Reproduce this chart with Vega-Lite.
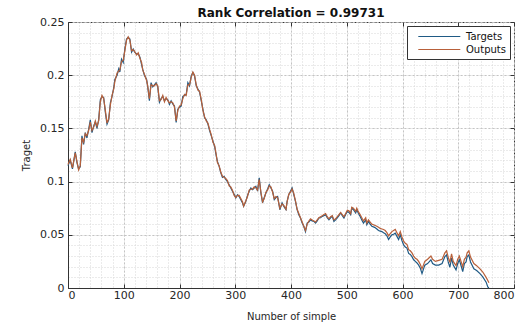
{
  "$schema": "https://vega.github.io/schema/vega-lite/v6.json",
  "width": 446,
  "height": 266,
  "autosize": {"type": "none"},
  "padding": {"left": 68, "top": 22, "right": 16, "bottom": 41},
  "background": "white",
  "title": {"text": "Rank Correlation = 0.99731", "font": "DejaVu Sans", "fontSize": 12, "fontWeight": "bold", "color": "#111111", "offset": -4, "anchor": "middle"},
  "config": {
    "view": {"stroke": "#333333", "strokeWidth": 1},
    "axis": {"labelFont": "DejaVu Sans", "labelFontSize": 11, "labelColor": "#262626", "titleFont": "DejaVu Sans", "titleFontSize": 10, "titleFontWeight": "normal", "titleColor": "#262626", "domainColor": "#333333", "tickColor": "#333333"}
  },
  "data": {"values": [
    {"n":0,"Targets":0.115,"Outputs":0.116},{"n":4,"Targets":0.12,"Outputs":0.121},{"n":8,"Targets":0.112,"Outputs":0.113},{"n":13,"Targets":0.128,"Outputs":0.127},{"n":16,"Targets":0.118,"Outputs":0.119},{"n":19,"Targets":0.112,"Outputs":0.111},{"n":22,"Targets":0.114,"Outputs":0.115},{"n":25,"Targets":0.143,"Outputs":0.141},{"n":28,"Targets":0.135,"Outputs":0.137},{"n":31,"Targets":0.146,"Outputs":0.145},{"n":34,"Targets":0.141,"Outputs":0.143},{"n":37,"Targets":0.149,"Outputs":0.148},{"n":40,"Targets":0.158,"Outputs":0.156},{"n":43,"Targets":0.146,"Outputs":0.148},{"n":46,"Targets":0.152,"Outputs":0.151},{"n":49,"Targets":0.156,"Outputs":0.157},{"n":52,"Targets":0.15,"Outputs":0.152},{"n":55,"Targets":0.158,"Outputs":0.157},{"n":58,"Targets":0.177,"Outputs":0.175},{"n":61,"Targets":0.18,"Outputs":0.181},{"n":64,"Targets":0.179,"Outputs":0.178},{"n":67,"Targets":0.165,"Outputs":0.167},{"n":70,"Targets":0.154,"Outputs":0.155},{"n":73,"Targets":0.158,"Outputs":0.159},{"n":76,"Targets":0.174,"Outputs":0.172},{"n":79,"Targets":0.18,"Outputs":0.181},{"n":82,"Targets":0.188,"Outputs":0.187},{"n":84,"Targets":0.196,"Outputs":0.194},{"n":88,"Targets":0.2,"Outputs":0.202},{"n":91,"Targets":0.206,"Outputs":0.204},{"n":93,"Targets":0.203,"Outputs":0.205},{"n":96,"Targets":0.215,"Outputs":0.213},{"n":99,"Targets":0.212,"Outputs":0.214},{"n":102,"Targets":0.2245,"Outputs":0.223},{"n":105,"Targets":0.234,"Outputs":0.233},{"n":108,"Targets":0.2355,"Outputs":0.236},{"n":111,"Targets":0.234,"Outputs":0.233},{"n":114,"Targets":0.2217,"Outputs":0.223},{"n":117,"Targets":0.2245,"Outputs":0.224},{"n":120,"Targets":0.2214,"Outputs":0.222},{"n":123,"Targets":0.22,"Outputs":0.219},{"n":126,"Targets":0.22,"Outputs":0.221},{"n":129,"Targets":0.217,"Outputs":0.216},{"n":132,"Targets":0.21,"Outputs":0.212},{"n":134,"Targets":0.2057,"Outputs":0.205},{"n":137,"Targets":0.2,"Outputs":0.201},{"n":141,"Targets":0.196,"Outputs":0.195},{"n":143,"Targets":0.189,"Outputs":0.19},{"n":146,"Targets":0.176,"Outputs":0.178},{"n":149,"Targets":0.193,"Outputs":0.191},{"n":152,"Targets":0.189,"Outputs":0.19},{"n":155,"Targets":0.191,"Outputs":0.19},{"n":158,"Targets":0.193,"Outputs":0.192},{"n":161,"Targets":0.189,"Outputs":0.19},{"n":164,"Targets":0.1745,"Outputs":0.176},{"n":167,"Targets":0.178,"Outputs":0.177},{"n":170,"Targets":0.18,"Outputs":0.181},{"n":173,"Targets":0.176,"Outputs":0.175},{"n":176,"Targets":0.178,"Outputs":0.179},{"n":179,"Targets":0.177,"Outputs":0.176},{"n":182,"Targets":0.1726,"Outputs":0.174},{"n":185,"Targets":0.176,"Outputs":0.175},{"n":188,"Targets":0.173,"Outputs":0.174},{"n":191,"Targets":0.171,"Outputs":0.17},{"n":194,"Targets":0.1555,"Outputs":0.157},{"n":197,"Targets":0.168,"Outputs":0.167},{"n":200,"Targets":0.17,"Outputs":0.171},{"n":203,"Targets":0.171,"Outputs":0.172},{"n":206,"Targets":0.18,"Outputs":0.178},{"n":209,"Targets":0.181,"Outputs":0.182},{"n":212,"Targets":0.182,"Outputs":0.181},{"n":215,"Targets":0.193,"Outputs":0.191},{"n":218,"Targets":0.19,"Outputs":0.191},{"n":221,"Targets":0.1994,"Outputs":0.198},{"n":224,"Targets":0.2025,"Outputs":0.203},{"n":227,"Targets":0.1994,"Outputs":0.2},{"n":230,"Targets":0.19,"Outputs":0.191},{"n":233,"Targets":0.187,"Outputs":0.186},{"n":236,"Targets":0.184,"Outputs":0.185},{"n":239,"Targets":0.176,"Outputs":0.177},{"n":242,"Targets":0.168,"Outputs":0.167},{"n":245,"Targets":0.16,"Outputs":0.161},{"n":248,"Targets":0.158,"Outputs":0.157},{"n":251,"Targets":0.154,"Outputs":0.155},{"n":254,"Targets":0.148,"Outputs":0.149},{"n":257,"Targets":0.143,"Outputs":0.144},{"n":260,"Targets":0.138,"Outputs":0.137},{"n":263,"Targets":0.133,"Outputs":0.134},{"n":266,"Targets":0.124,"Outputs":0.125},{"n":268,"Targets":0.119,"Outputs":0.118},{"n":271,"Targets":0.1145,"Outputs":0.115},{"n":274,"Targets":0.1085,"Outputs":0.109},{"n":277,"Targets":0.104,"Outputs":0.105},{"n":280,"Targets":0.105,"Outputs":0.104},{"n":283,"Targets":0.102,"Outputs":0.103},{"n":286,"Targets":0.1,"Outputs":0.101},{"n":289,"Targets":0.097,"Outputs":0.096},{"n":292,"Targets":0.094,"Outputs":0.095},{"n":295,"Targets":0.091,"Outputs":0.092},{"n":298,"Targets":0.088,"Outputs":0.087},{"n":301,"Targets":0.0846,"Outputs":0.085},{"n":304,"Targets":0.0877,"Outputs":0.087},{"n":307,"Targets":0.086,"Outputs":0.087},{"n":310,"Targets":0.083,"Outputs":0.084},{"n":313,"Targets":0.08,"Outputs":0.081},{"n":315,"Targets":0.0767,"Outputs":0.077},{"n":319,"Targets":0.0814,"Outputs":0.082},{"n":322,"Targets":0.087,"Outputs":0.086},{"n":325,"Targets":0.091,"Outputs":0.092},{"n":328,"Targets":0.094,"Outputs":0.093},{"n":331,"Targets":0.0925,"Outputs":0.093},{"n":334,"Targets":0.094,"Outputs":0.095},{"n":337,"Targets":0.0956,"Outputs":0.094},{"n":340,"Targets":0.091,"Outputs":0.092},{"n":343,"Targets":0.1035,"Outputs":0.102},{"n":346,"Targets":0.0893,"Outputs":0.09},{"n":349,"Targets":0.08,"Outputs":0.081},{"n":352,"Targets":0.085,"Outputs":0.084},{"n":355,"Targets":0.0893,"Outputs":0.09},{"n":358,"Targets":0.093,"Outputs":0.092},{"n":361,"Targets":0.097,"Outputs":0.096},{"n":364,"Targets":0.094,"Outputs":0.095},{"n":367,"Targets":0.091,"Outputs":0.09},{"n":370,"Targets":0.083,"Outputs":0.084},{"n":373,"Targets":0.085,"Outputs":0.086},{"n":376,"Targets":0.086,"Outputs":0.085},{"n":380,"Targets":0.0736,"Outputs":0.075},{"n":384,"Targets":0.08,"Outputs":0.079},{"n":388,"Targets":0.076,"Outputs":0.077},{"n":391,"Targets":0.0736,"Outputs":0.074},{"n":393,"Targets":0.0814,"Outputs":0.081},{"n":396,"Targets":0.0877,"Outputs":0.088},{"n":399,"Targets":0.091,"Outputs":0.09},{"n":402,"Targets":0.094,"Outputs":0.093},{"n":405,"Targets":0.0877,"Outputs":0.089},{"n":408,"Targets":0.0814,"Outputs":0.082},{"n":411,"Targets":0.0736,"Outputs":0.074},{"n":414,"Targets":0.0689,"Outputs":0.07},{"n":417,"Targets":0.0658,"Outputs":0.066},{"n":420,"Targets":0.061,"Outputs":0.062},{"n":423,"Targets":0.0578,"Outputs":0.058},{"n":426,"Targets":0.053,"Outputs":0.054},{"n":429,"Targets":0.061,"Outputs":0.06},{"n":432,"Targets":0.062,"Outputs":0.063},{"n":435,"Targets":0.064,"Outputs":0.065},{"n":438,"Targets":0.063,"Outputs":0.064},{"n":441,"Targets":0.0626,"Outputs":0.063},{"n":444,"Targets":0.061,"Outputs":0.062},{"n":447,"Targets":0.063,"Outputs":0.064},{"n":450,"Targets":0.0658,"Outputs":0.066},{"n":453,"Targets":0.066,"Outputs":0.067},{"n":456,"Targets":0.0673,"Outputs":0.068},{"n":459,"Targets":0.068,"Outputs":0.069},{"n":462,"Targets":0.0689,"Outputs":0.07},{"n":465,"Targets":0.066,"Outputs":0.067},{"n":468,"Targets":0.064,"Outputs":0.065},{"n":471,"Targets":0.066,"Outputs":0.067},{"n":474,"Targets":0.0673,"Outputs":0.068},{"n":477,"Targets":0.0626,"Outputs":0.064},{"n":480,"Targets":0.064,"Outputs":0.065},{"n":483,"Targets":0.0658,"Outputs":0.067},{"n":486,"Targets":0.068,"Outputs":0.069},{"n":489,"Targets":0.0705,"Outputs":0.071},{"n":492,"Targets":0.068,"Outputs":0.069},{"n":495,"Targets":0.0658,"Outputs":0.067},{"n":498,"Targets":0.069,"Outputs":0.07},{"n":501,"Targets":0.072,"Outputs":0.073},{"n":504,"Targets":0.071,"Outputs":0.0725},{"n":507,"Targets":0.0689,"Outputs":0.07},{"n":509,"Targets":0.075,"Outputs":0.076},{"n":512,"Targets":0.0736,"Outputs":0.075},{"n":516,"Targets":0.0705,"Outputs":0.072},{"n":518,"Targets":0.0736,"Outputs":0.075},{"n":521,"Targets":0.07,"Outputs":0.0715},{"n":524,"Targets":0.0673,"Outputs":0.069},{"n":527,"Targets":0.064,"Outputs":0.066},{"n":530,"Targets":0.061,"Outputs":0.063},{"n":534,"Targets":0.064,"Outputs":0.066},{"n":536,"Targets":0.0594,"Outputs":0.061},{"n":539,"Targets":0.0626,"Outputs":0.064},{"n":542,"Targets":0.06,"Outputs":0.062},{"n":545,"Targets":0.058,"Outputs":0.06},{"n":550,"Targets":0.057,"Outputs":0.059},{"n":554,"Targets":0.0555,"Outputs":0.058},{"n":557,"Targets":0.054,"Outputs":0.057},{"n":560,"Targets":0.0535,"Outputs":0.056},{"n":563,"Targets":0.053,"Outputs":0.0555},{"n":566,"Targets":0.052,"Outputs":0.055},{"n":569,"Targets":0.051,"Outputs":0.054},{"n":572,"Targets":0.049,"Outputs":0.052},{"n":575,"Targets":0.0455,"Outputs":0.049},{"n":578,"Targets":0.048,"Outputs":0.051},{"n":581,"Targets":0.05,"Outputs":0.053},{"n":584,"Targets":0.0505,"Outputs":0.054},{"n":587,"Targets":0.0515,"Outputs":0.055},{"n":590,"Targets":0.0485,"Outputs":0.052},{"n":593,"Targets":0.0455,"Outputs":0.049},{"n":596,"Targets":0.05,"Outputs":0.053},{"n":599,"Targets":0.0445,"Outputs":0.048},{"n":602,"Targets":0.0405,"Outputs":0.044},{"n":605,"Targets":0.0385,"Outputs":0.042},{"n":608,"Targets":0.0375,"Outputs":0.041},{"n":611,"Targets":0.0325,"Outputs":0.036},{"n":614,"Targets":0.0315,"Outputs":0.035},{"n":617,"Targets":0.0295,"Outputs":0.033},{"n":620,"Targets":0.0265,"Outputs":0.03},{"n":623,"Targets":0.025,"Outputs":0.028},{"n":626,"Targets":0.0235,"Outputs":0.027},{"n":629,"Targets":0.0215,"Outputs":0.025},{"n":632,"Targets":0.0185,"Outputs":0.022},{"n":635,"Targets":0.0135,"Outputs":0.018},{"n":640,"Targets":0.0215,"Outputs":0.025},{"n":645,"Targets":0.023,"Outputs":0.027},{"n":651,"Targets":0.0265,"Outputs":0.03},{"n":654,"Targets":0.023,"Outputs":0.027},{"n":659,"Targets":0.0215,"Outputs":0.025},{"n":665,"Targets":0.0215,"Outputs":0.026},{"n":671,"Targets":0.023,"Outputs":0.027},{"n":676,"Targets":0.0295,"Outputs":0.033},{"n":679,"Targets":0.031,"Outputs":0.035},{"n":682,"Targets":0.0245,"Outputs":0.029},{"n":685,"Targets":0.0195,"Outputs":0.024},{"n":688,"Targets":0.028,"Outputs":0.032},{"n":691,"Targets":0.0215,"Outputs":0.025},{"n":696,"Targets":0.017,"Outputs":0.021},{"n":699,"Targets":0.023,"Outputs":0.027},{"n":702,"Targets":0.0265,"Outputs":0.03},{"n":708,"Targets":0.0155,"Outputs":0.02},{"n":711,"Targets":0.023,"Outputs":0.027},{"n":714,"Targets":0.0245,"Outputs":0.029},{"n":716,"Targets":0.0295,"Outputs":0.033},{"n":719,"Targets":0.031,"Outputs":0.035},{"n":722,"Targets":0.0245,"Outputs":0.029},{"n":728,"Targets":0.018,"Outputs":0.023},{"n":733,"Targets":0.0165,"Outputs":0.021},{"n":739,"Targets":0.0135,"Outputs":0.018},{"n":744,"Targets":0.0105,"Outputs":0.015},{"n":750,"Targets":0.0055,"Outputs":0.01},{"n":753,"Targets":0.001,"Outputs":0.007},{"n":755,"Targets":0.0,"Outputs":0.005}
  ]},
  "resolve": {"axis": {"x": "independent", "y": "independent"}},
  "layer": [
    {
      "mark": {"type": "line", "strokeWidth": 1.2},
      "encoding": {
        "x": {"field": "n", "type": "quantitative", "scale": {"domain": [0, 800], "nice": false},
          "axis": {"orient": "bottom", "values": [0,20,40,60,80,100,120,140,160,180,200,220,240,260,280,300,320,340,360,380,400,420,440,460,480,500,520,540,560,580,600,620,640,660,680,700,720,740,760,780,800], "grid": true, "gridColor": "#d6d6d6", "gridDash": [1, 2], "labels": false, "ticks": false, "domain": false, "title": null}},
        "y": {"field": "Targets", "type": "quantitative", "scale": {"domain": [0, 0.25], "nice": false, "zero": true},
          "axis": {"orient": "left", "values": [0,0.01,0.02,0.03,0.04,0.05,0.06,0.07,0.08,0.09,0.1,0.11,0.12,0.13,0.14,0.15,0.16,0.17,0.18,0.19,0.2,0.21,0.22,0.23,0.24,0.25], "grid": true, "gridColor": "#d6d6d6", "gridDash": [1, 2], "labels": false, "ticks": false, "domain": false, "title": null}},
        "color": {"datum": "Targets", "type": "nominal",
          "scale": {"domain": ["Targets", "Outputs"], "range": ["#1f5a85", "#b8603a"]},
          "legend": {"title": null, "orient": "top-right", "offset": 4, "strokeColor": "#333333", "fillColor": "white", "padding": 4, "symbolType": "M-6.2,0H0.8", "symbolSize": 144, "symbolOffset": 38, "symbolStrokeWidth": 1, "labelOffset": 4, "labelFont": "DejaVu Sans", "labelFontSize": 10, "labelColor": "#111111", "rowPadding": 1, "cornerRadius": 0}}
      }
    },
    {
      "mark": {"type": "line", "strokeWidth": 1.2},
      "encoding": {
        "x": {"field": "n", "type": "quantitative",
          "axis": {"orient": "bottom", "values": [0,100,200,300,400,500,600,700,800], "grid": true, "gridColor": "#c4c4c4", "gridDash": [2, 2], "tickSize": -4, "labelPadding": 5, "title": "Number of simple", "titlePadding": 11}},
        "y": {"field": "Outputs", "type": "quantitative",
          "axis": {"orient": "left", "values": [0,0.05,0.1,0.15,0.2,0.25], "format": "~g", "grid": true, "gridColor": "#c4c4c4", "gridDash": [2, 2], "tickSize": -4, "labelPadding": 8, "title": "Traget", "titlePadding": 8}},
        "color": {"datum": "Outputs", "type": "nominal"}
      }
    },
    {
      "mark": {"type": "line", "strokeOpacity": 0},
      "encoding": {
        "x": {"field": "n", "type": "quantitative",
          "axis": {"orient": "top", "values": [0,100,200,300,400,500,600,700,800], "grid": false, "labels": false, "domain": false, "tickSize": -4, "title": null}},
        "y": {"field": "Outputs", "type": "quantitative",
          "axis": {"orient": "right", "values": [0,0.05,0.1,0.15,0.2,0.25], "grid": false, "labels": false, "domain": false, "tickSize": -4, "title": null}}
      }
    }
  ]
}
